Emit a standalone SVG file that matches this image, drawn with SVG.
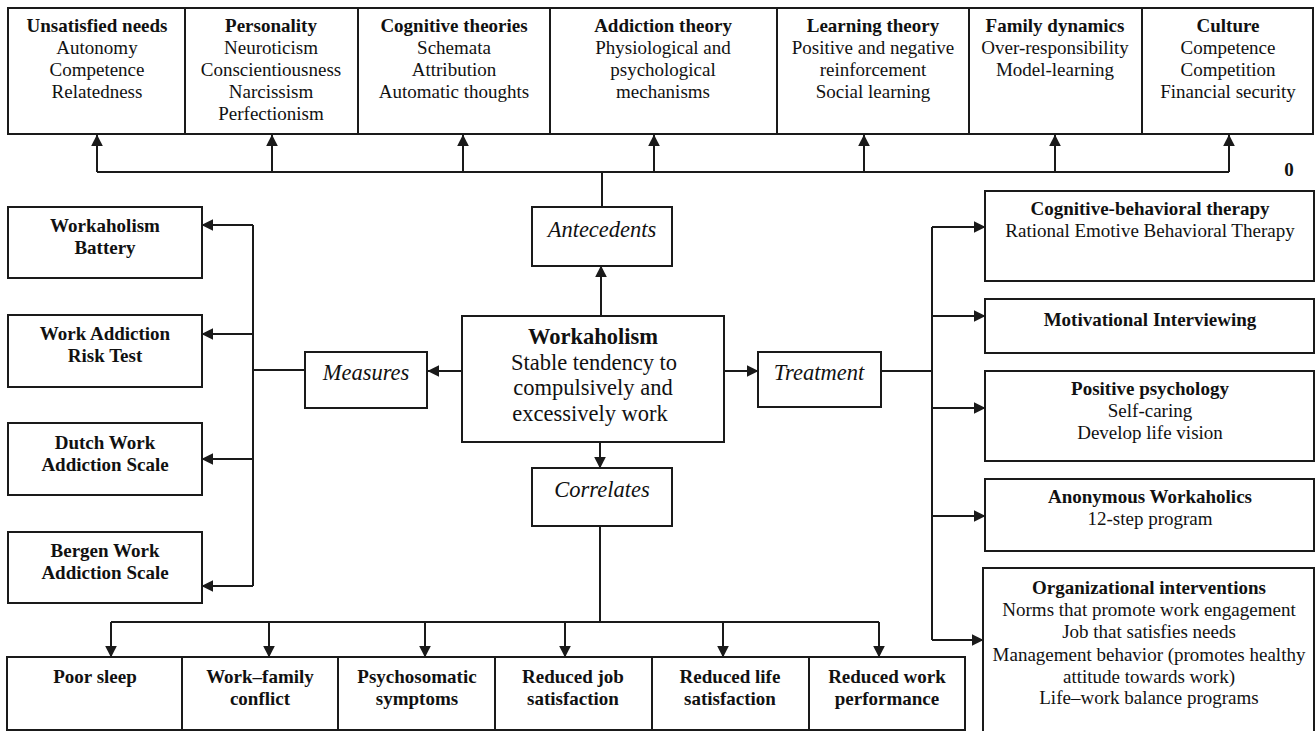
<svg xmlns="http://www.w3.org/2000/svg" width="1316" height="731" viewBox="0 0 1316 731">
<style>
.box{fill:#fff;stroke:#1a1a1a;stroke-width:2}
.ln{fill:none;stroke:#1a1a1a;stroke-width:2}
.ar{fill:none;stroke:#1a1a1a;stroke-width:2;marker-end:url(#ah)}
text{font-family:"Liberation Serif","Times New Roman",serif;font-size:19px;fill:#111;text-anchor:middle}
.b{font-weight:bold}
.i{font-style:italic;font-size:22.5px}
.c{font-size:22.5px}
</style>
<defs>
<marker id="ah" viewBox="0 0 10 10" refX="9.5" refY="5" markerWidth="12" markerHeight="12" markerUnits="userSpaceOnUse" orient="auto">
<path d="M0,0 L10,5 L0,10 z" fill="#1a1a1a"/>
</marker>
</defs>
<rect width="1316" height="731" fill="#fff"/>

<g id="connectors">
<path class="ln" d="M97,172 H1229"/>
<path class="ar" d="M97,172 V135"/>
<path class="ar" d="M272,172 V135"/>
<path class="ar" d="M463,172 V135"/>
<path class="ar" d="M654,172 V135"/>
<path class="ar" d="M864,172 V135"/>
<path class="ar" d="M1055,172 V135"/>
<path class="ar" d="M1229,172 V135"/>
<path class="ln" d="M602,172 V207"/>
<path class="ar" d="M601,316 V266"/>
<path class="ar" d="M462,371 H428"/>
<path class="ln" d="M305,370 H253 M253,225 V586"/>
<path class="ar" d="M253,225 H202"/>
<path class="ar" d="M253,334 H202"/>
<path class="ar" d="M253,459 H202"/>
<path class="ar" d="M253,586 H202"/>
<path class="ar" d="M724,371 H758"/>
<path class="ln" d="M881,371 H932 M932,227 V640"/>
<path class="ar" d="M932,227 H985"/>
<path class="ar" d="M932,316 H985"/>
<path class="ar" d="M932,408 H985"/>
<path class="ar" d="M932,516 H985"/>
<path class="ar" d="M932,640 H983"/>
<path class="ar" d="M600,442 V468"/>
<path class="ln" d="M600,526 V622 M111,622 H879"/>
<path class="ar" d="M111,622 V657"/>
<path class="ar" d="M269,622 V657"/>
<path class="ar" d="M425,622 V657"/>
<path class="ar" d="M565,622 V657"/>
<path class="ar" d="M723,622 V657"/>
<path class="ar" d="M879,622 V657"/>
</g>

<g id="unsatisfied-needs">
<rect class="box" x="8" y="8" width="177" height="126"/>
<text x="97" y="32" class="b">Unsatisfied needs</text>
<text x="97" y="54">Autonomy</text>
<text x="97" y="76">Competence</text>
<text x="97" y="98">Relatedness</text>
</g>
<g id="personality">
<rect class="box" x="185" y="8" width="173" height="126"/>
<text x="271" y="32" class="b">Personality</text>
<text x="271" y="54">Neuroticism</text>
<text x="271" y="76">Conscientiousness</text>
<text x="271" y="98">Narcissism</text>
<text x="271" y="120">Perfectionism</text>
</g>
<g id="cognitive-theories">
<rect class="box" x="358" y="8" width="192" height="126"/>
<text x="454" y="32" class="b">Cognitive theories</text>
<text x="454" y="54">Schemata</text>
<text x="454" y="76">Attribution</text>
<text x="454" y="98">Automatic thoughts</text>
</g>
<g id="addiction-theory">
<rect class="box" x="550" y="8" width="227" height="126"/>
<text x="663" y="32" class="b">Addiction theory</text>
<text x="663" y="54">Physiological and</text>
<text x="663" y="76">psychological</text>
<text x="663" y="98">mechanisms</text>
</g>
<g id="learning-theory">
<rect class="box" x="777" y="8" width="192" height="126"/>
<text x="873" y="32" class="b">Learning theory</text>
<text x="873" y="54">Positive and negative</text>
<text x="873" y="76">reinforcement</text>
<text x="873" y="98">Social learning</text>
</g>
<g id="family-dynamics">
<rect class="box" x="969" y="8" width="173" height="126"/>
<text x="1055" y="32" class="b">Family dynamics</text>
<text x="1055" y="54">Over-responsibility</text>
<text x="1055" y="76">Model-learning</text>
</g>
<g id="culture">
<rect class="box" x="1142" y="8" width="171" height="126"/>
<text x="1228" y="32" class="b">Culture</text>
<text x="1228" y="54">Competence</text>
<text x="1228" y="76">Competition</text>
<text x="1228" y="98">Financial security</text>
</g>
<text x="1289" y="176" class="b">0</text>

<g id="antecedents">
<rect class="box" x="532" y="207" width="140" height="59"/>
<text x="602" y="237" class="i">Antecedents</text>
</g>
<g id="workaholism">
<rect class="box" x="462" y="316" width="262" height="126"/>
<text x="593" y="344" class="b" style="font-size:22.5px">Workaholism</text>
<text x="594" y="370" class="c">Stable tendency to</text>
<text x="593" y="395" class="c">compulsively and</text>
<text x="590" y="421" class="c">excessively work</text>
</g>
<g id="measures">
<rect class="box" x="305" y="352" width="122" height="56"/>
<text x="366" y="380" class="i">Measures</text>
</g>
<g id="treatment">
<rect class="box" x="758" y="352" width="123" height="55"/>
<text x="819" y="380" class="i">Treatment</text>
</g>
<g id="correlates">
<rect class="box" x="532" y="468" width="140" height="58"/>
<text x="602" y="497" class="i">Correlates</text>
</g>

<g id="workaholism-battery">
<rect class="box" x="8" y="207" width="194" height="71"/>
<text x="105" y="232" class="b">Workaholism</text>
<text x="105" y="254" class="b">Battery</text>
</g>
<g id="wart">
<rect class="box" x="8" y="315" width="194" height="72"/>
<text x="105" y="340" class="b">Work Addiction</text>
<text x="105" y="362" class="b">Risk Test</text>
</g>
<g id="dutch">
<rect class="box" x="8" y="423" width="194" height="72"/>
<text x="105" y="449" class="b">Dutch Work</text>
<text x="105" y="471" class="b">Addiction Scale</text>
</g>
<g id="bergen">
<rect class="box" x="8" y="532" width="194" height="71"/>
<text x="105" y="557" class="b">Bergen Work</text>
<text x="105" y="579" class="b">Addiction Scale</text>
</g>

<g id="cbt">
<rect class="box" x="985" y="191" width="329" height="90"/>
<text x="1150" y="215" class="b">Cognitive-behavioral therapy</text>
<text x="1150" y="237">Rational Emotive Behavioral Therapy</text>
</g>
<g id="mi">
<rect class="box" x="985" y="299" width="329" height="54"/>
<text x="1150" y="326" class="b">Motivational Interviewing</text>
</g>
<g id="positive">
<rect class="box" x="985" y="371" width="329" height="90"/>
<text x="1150" y="395" class="b">Positive psychology</text>
<text x="1150" y="417">Self-caring</text>
<text x="1150" y="439">Develop life vision</text>
</g>
<g id="anonymous">
<rect class="box" x="985" y="479" width="329" height="72"/>
<text x="1150" y="503" class="b">Anonymous Workaholics</text>
<text x="1150" y="525">12-step program</text>
</g>
<g id="organizational">
<rect class="box" x="983" y="568" width="331" height="180"/>
<text x="1149" y="594" class="b">Organizational interventions</text>
<text x="1149" y="616">Norms that promote work engagement</text>
<text x="1149" y="638">Job that satisfies needs</text>
<text x="1149" y="661">Management behavior (promotes healthy</text>
<text x="1149" y="683">attitude towards work)</text>
<text x="1149" y="704">Life–work balance programs</text>
</g>

<g id="poor-sleep">
<rect class="box" x="7" y="657" width="175" height="73"/>
<text x="95" y="683" class="b">Poor sleep</text>
</g>
<g id="work-family">
<rect class="box" x="182" y="657" width="156" height="73"/>
<text x="260" y="683" class="b">Work–family</text>
<text x="260" y="705" class="b">conflict</text>
</g>
<g id="psychosomatic">
<rect class="box" x="338" y="657" width="157" height="73"/>
<text x="417" y="683" class="b">Psychosomatic</text>
<text x="417" y="705" class="b">symptoms</text>
</g>
<g id="job-satisfaction">
<rect class="box" x="495" y="657" width="157" height="73"/>
<text x="573" y="683" class="b">Reduced job</text>
<text x="573" y="705" class="b">satisfaction</text>
</g>
<g id="life-satisfaction">
<rect class="box" x="652" y="657" width="157" height="73"/>
<text x="730" y="683" class="b">Reduced life</text>
<text x="730" y="705" class="b">satisfaction</text>
</g>
<g id="work-performance">
<rect class="box" x="809" y="657" width="156" height="73"/>
<text x="887" y="683" class="b">Reduced work</text>
<text x="887" y="705" class="b">performance</text>
</g>
</svg>
